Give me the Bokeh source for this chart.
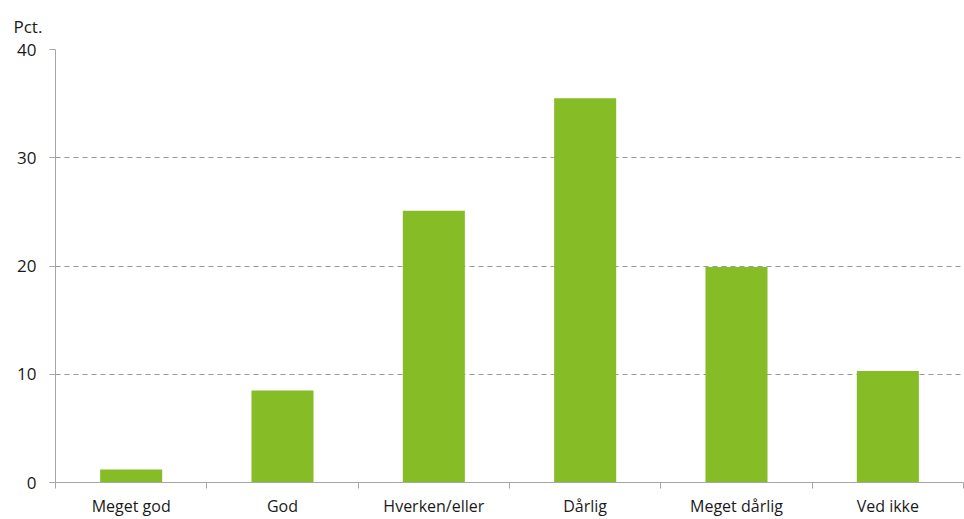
from bokeh.plotting import figure
from bokeh.models import ColumnDataSource, FixedTicker, Range1d
from bokeh.embed import file_html
from bokeh.resources import INLINE

categories = ["Meget god", "God", "Hverken/eller", "Dårlig", "Meget dårlig", "Ved ikke"]
values = [1.2, 8.5, 25.1, 35.5, 19.9, 10.3]
y_ticks = [0, 10, 20, 30, 40]
unit_label = "Pct."

FONT = "Open Sans"
TXT = "#1a1a1a"
GRAY = "#a6a6a6"

xs = [i + 0.5 for i in range(len(categories))]
src = ColumnDataSource(dict(x=xs, top=values, cat=categories))

p = figure(frame_width=908, frame_height=433, output_backend="svg", toolbar_location=None,
           x_range=Range1d(0, len(categories)), y_range=Range1d(0, 40),
           min_border_left=55, min_border_right=1, min_border_top=49, min_border_bottom=0)
p.outline_line_color = None
p.background_fill_color = "white"
p.border_fill_color = "white"

p.vbar(x="x", top="top", width=0.41, bottom=0, source=src, fill_color="#86bc25", line_color=None)

p.title.text = unit_label
p.title.align = "left"
p.title.offset = -42
p.title.text_font = FONT
p.title.text_font_size = "17px"
p.title.text_font_style = "normal"
p.title.text_color = TXT
p.title.standoff = 23

# x axis
xa = p.xaxis[0]
xa.ticker = FixedTicker(ticks=xs, minor_ticks=list(range(len(categories) + 1)))
xa.major_label_overrides = {x: c for x, c in zip(xs, categories)}
xa.major_tick_out = 0
xa.major_tick_in = 0
xa.minor_tick_out = 6
xa.minor_tick_in = 0
xa.minor_tick_line_color = GRAY
xa.axis_line_color = GRAY
xa.major_label_text_font = FONT
xa.major_label_text_font_size = "16px"
xa.major_label_text_color = TXT
xa.major_label_standoff = 6

# y axis
ya = p.yaxis[0]
ya.ticker = FixedTicker(ticks=y_ticks)
ya.major_tick_out = 6
ya.major_tick_in = 0
ya.minor_tick_out = 0
ya.minor_tick_in = 0
ya.major_tick_line_color = GRAY
ya.axis_line_color = GRAY
ya.major_label_text_font = FONT
ya.major_label_text_font_size = "17px"
ya.major_label_text_color = TXT
ya.major_label_standoff = 13

p.xgrid.grid_line_color = None
p.ygrid.grid_line_color = "#999999"
p.ygrid.grid_line_dash = "5 4"
p.ygrid.grid_line_width = 1

open("out.html", "w").write(file_html(p, INLINE))
